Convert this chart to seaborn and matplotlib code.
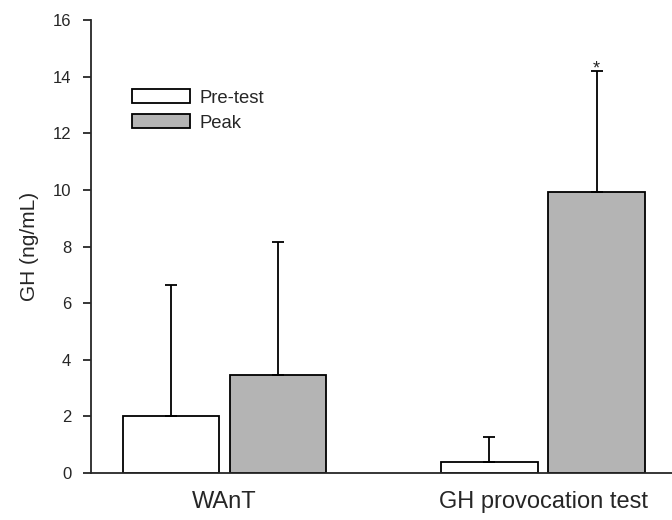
import numpy as np
import pandas as pd
import seaborn as sns
import matplotlib.pyplot as plt

# values
tests = ['WAnT', 'GH provocation test']
conditions = ['Pre-test', 'Peak']
pre_mean = [2.0, 0.38]
pre_sd = [4.65, 0.90]
peak_mean = [3.45, 9.93]
peak_sd = [4.70, 4.27]

sns.set_theme(style="ticks")
plt.rcParams['font.family'] = ['Liberation Sans', 'DejaVu Sans']

df = pd.DataFrame({
    'test': tests * 2,
    'condition': [conditions[0]] * 2 + [conditions[1]] * 2,
    'GH': pre_mean + peak_mean,
    'sd': pre_sd + peak_sd,
})

fig = plt.figure(figsize=(6.72, 5.2), dpi=100)
ax = fig.add_axes([0.135, 0.0904, 0.865, 0.8711])

sns.barplot(data=df, x='test', y='GH', hue='condition', order=tests,
            hue_order=conditions, palette=['white', '#b4b4b4'],
            edgecolor='black', linewidth=1.3, width=0.672, gap=0.10,
            errorbar=None, ax=ax)

# upper error bars, taken from the bar positions seaborn drew
bars = ax.patches[:4]
for bar, (_, row) in zip(bars, df.iterrows()):
    xc = bar.get_x() + bar.get_width() / 2
    ax.errorbar(xc, row['GH'], yerr=[[0], [row['sd']]], fmt='none',
                ecolor='black', elinewidth=1.3, capsize=4.5, capthick=1.3)

# significance marker on GH provocation peak
top = bars[3]
ax.text(top.get_x() + top.get_width() / 2,
        df.loc[3, 'GH'] + df.loc[3, 'sd'] + 0.08, '*',
        ha='center', va='center', fontsize=13)

ax.set_xlim(-0.42, 1.405)
ax.set_ylim(0, 16)
ax.set_yticks(np.arange(0, 17, 2))
ax.set_ylabel('GH (ng/mL)', fontsize=15, labelpad=10)
ax.set_xlabel('')
ax.tick_params(axis='y', labelsize=12, direction='out', length=6, width=1.3, pad=8)
ax.tick_params(axis='x', labelsize=17, length=0, pad=13)
for s in ['top', 'right']:
    ax.spines[s].set_visible(False)
for s in ['left', 'bottom']:
    ax.spines[s].set_linewidth(1.3)

ax.legend(loc='upper left', bbox_to_anchor=(0.0706, 0.847), frameon=False,
          fontsize=13.3, handlelength=3.13, handleheight=0.76,
          handletextpad=0.55, labelspacing=0.42, borderpad=0,
          borderaxespad=0)

plt.savefig('out.png', dpi=100)
